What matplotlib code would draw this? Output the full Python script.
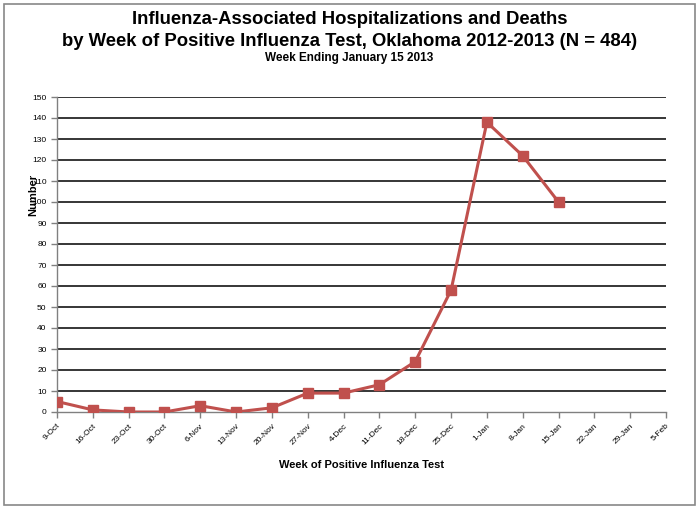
import matplotlib
matplotlib.use("Agg")
import matplotlib.pyplot as plt
from matplotlib.patches import Rectangle

weeks = ["9-Oct", "16-Oct", "23-Oct", "30-Oct", "6-Nov", "13-Nov", "20-Nov", "27-Nov",
         "4-Dec", "11-Dec", "18-Dec", "25-Dec", "1-Jan", "8-Jan", "15-Jan", "22-Jan",
         "29-Jan", "5-Feb"]
counts = [5, 1, 0, 0, 3, 0, 2, 9, 9, 13, 24, 58, 138, 122, 100]
yticks = list(range(0, 151, 10))

plt.rcParams['font.family'] = ['Liberation Sans', 'DejaVu Sans']

fig = plt.figure(figsize=(6.99, 5.09), dpi=100)
fig.patches.append(Rectangle((4/699, 4/509), 691/699, 501/509, transform=fig.transFigure,
                             fill=False, edgecolor='#888888', linewidth=1.2))

ax = fig.add_axes([57/699, 1 - 412/509, (666-57)/699, (412-97)/509])
x = list(range(len(weeks)))
ax.plot(x[:len(counts)], counts, color='#C0504D', linewidth=2.2, marker='s',
        markersize=6.5, markerfacecolor='#C0504D', markeredgecolor='#C0504D', zorder=3)

ax.set_xlim(0, len(weeks) - 1)
ax.set_ylim(0, 150)
ax.set_yticks(yticks)
ax.set_yticklabels([str(v) for v in yticks], fontsize=6)
ax.set_xticks(x)
ax.set_xticklabels(weeks, rotation=45, ha='right', rotation_mode='anchor', fontsize=6)
for v in yticks[1:]:
    ax.axhline(v, color='black', linewidth=1.1, zorder=1)

for s in ['top', 'right']:
    ax.spines[s].set_visible(False)
for s in ['left', 'bottom']:
    ax.spines[s].set_color('#808080')
    ax.spines[s].set_linewidth(1)
ax.tick_params(axis='both', colors='#808080', labelcolor='black', length=4, width=1)

ax.set_ylabel("Number", fontsize=8, fontweight='bold')
ax.yaxis.set_label_coords(-0.03, 0.69)
ax.set_xlabel("Week of Positive Influenza Test", fontsize=8, fontweight='bold')
ax.xaxis.set_label_coords(0.5, -0.152)

fig.text(0.5, 1 - 19/509, "Influenza-Associated Hospitalizations and Deaths",
         ha='center', va='center', fontsize=13.3, fontweight='bold')
fig.text(0.5, 1 - 41/509, "by Week of Positive Influenza Test, Oklahoma 2012-2013 (N = 484)",
         ha='center', va='center', fontsize=13.3, fontweight='bold')
fig.text(0.5, 1 - 58/509, "Week Ending January 15 2013",
         ha='center', va='center', fontsize=8.5, fontweight='bold')

fig.savefig("out.png", dpi=100)
